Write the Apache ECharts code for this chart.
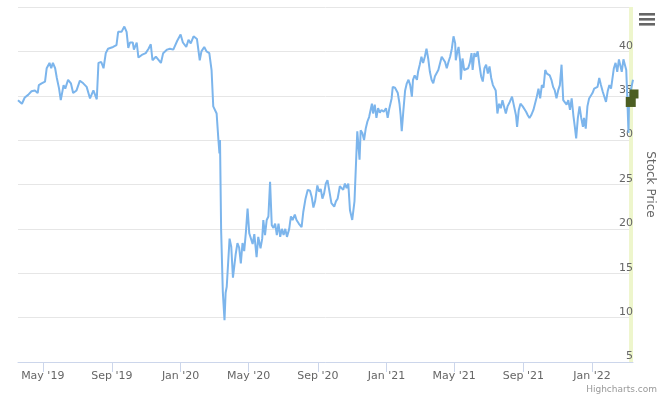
<!DOCTYPE html>
<html>
<head>
<meta charset="utf-8">
<script src="https://cdn.jsdelivr.net/npm/echarts@6/dist/echarts.min.js"></script>
<style>
html,body{margin:0;padding:0;background:#fff;}
#chart{width:660px;height:400px;}
</style>
</head>
<body>
<div id="chart"></div>
<script>
// ---- data ----
const dates = [
"2019-03-18","2019-03-25","2019-03-30","2019-04-05","2019-04-11","2019-04-17","2019-04-22","2019-04-24","2019-04-29","2019-05-05",
"2019-05-08","2019-05-13","2019-05-16","2019-05-19","2019-05-23","2019-05-26","2019-05-30","2019-06-02","2019-06-07","2019-06-10",
"2019-06-15","2019-06-20","2019-06-24","2019-06-30","2019-07-06","2019-07-12","2019-07-18","2019-07-24","2019-07-30","2019-08-05",
"2019-08-08","2019-08-13","2019-08-17","2019-08-21","2019-08-25","2019-09-03","2019-09-09","2019-09-12","2019-09-18","2019-09-23",
"2019-09-27","2019-09-30","2019-10-03","2019-10-08","2019-10-10","2019-10-15","2019-10-18","2019-10-24","2019-10-31","2019-11-05",
"2019-11-09","2019-11-12","2019-11-18","2019-11-27","2019-12-01","2019-12-08","2019-12-13","2019-12-19","2019-12-22","2019-12-26",
"2020-01-01","2020-01-05","2020-01-11","2020-01-15","2020-01-19","2020-01-24","2020-01-30","2020-02-04","2020-02-07","2020-02-12",
"2020-02-16","2020-02-21","2020-02-25","2020-02-28","2020-03-02","2020-03-05","2020-03-08","2020-03-10","2020-03-11","2020-03-13",
"2020-03-16","2020-03-19","2020-03-21","2020-03-23","2020-03-28","2020-03-31","2020-04-03","2020-04-08","2020-04-11","2020-04-14",
"2020-04-17","2020-04-20","2020-04-23","2020-04-26","2020-04-29","2020-05-02","2020-05-05","2020-05-08","2020-05-11","2020-05-15",
"2020-05-18","2020-05-22","2020-05-25","2020-05-27","2020-05-30","2020-06-02","2020-06-05","2020-06-08","2020-06-11","2020-06-14",
"2020-06-17","2020-06-20","2020-06-23","2020-06-26","2020-06-29","2020-07-02","2020-07-05","2020-07-08","2020-07-12","2020-07-15",
"2020-07-18","2020-07-22","2020-07-25","2020-07-29","2020-08-03","2020-08-06","2020-08-10","2020-08-14","2020-08-18","2020-08-21",
"2020-08-24","2020-08-27","2020-08-31","2020-09-03","2020-09-06","2020-09-09","2020-09-12","2020-09-15","2020-09-18","2020-09-21",
"2020-09-25","2020-09-30","2020-10-03","2020-10-06","2020-10-10","2020-10-13","2020-10-16","2020-10-19","2020-10-22","2020-10-25",
"2020-10-28","2020-11-01","2020-11-05","2020-11-07","2020-11-10","2020-11-14","2020-11-16","2020-11-19","2020-11-22","2020-11-25",
"2020-11-28","2020-12-01","2020-12-04","2020-12-06","2020-12-08","2020-12-11","2020-12-14","2020-12-17","2020-12-20","2020-12-23",
"2020-12-27","2020-12-31","2021-01-03","2021-01-06","2021-01-10","2021-01-12","2021-01-16","2021-01-19","2021-01-21","2021-01-24",
"2021-01-26","2021-01-28","2021-01-31","2021-02-03","2021-02-06","2021-02-09","2021-02-12","2021-02-15","2021-02-17","2021-02-20",
"2021-02-24","2021-02-26","2021-03-01","2021-03-04","2021-03-07","2021-03-10","2021-03-13","2021-03-16","2021-03-19","2021-03-22",
"2021-03-25","2021-03-28","2021-03-31","2021-04-03","2021-04-06","2021-04-09","2021-04-12","2021-04-15","2021-04-18","2021-04-21",
"2021-04-24","2021-04-27","2021-04-30","2021-05-03","2021-05-04","2021-05-07","2021-05-09","2021-05-12","2021-05-13","2021-05-16",
"2021-05-19","2021-05-22","2021-05-26","2021-05-29","2021-06-01","2021-06-03","2021-06-06","2021-06-09","2021-06-12","2021-06-15",
"2021-06-18","2021-06-21","2021-06-24","2021-06-27","2021-06-30","2021-07-03","2021-07-06","2021-07-09","2021-07-11","2021-07-14",
"2021-07-17","2021-07-20","2021-07-23","2021-07-26","2021-07-29","2021-08-01","2021-08-04","2021-08-08","2021-08-12","2021-08-15",
"2021-08-19","2021-08-21","2021-08-24","2021-08-27","2021-08-31","2021-09-03","2021-09-06","2021-09-09","2021-09-12","2021-09-15",
"2021-09-19","2021-09-22","2021-09-25","2021-09-28","2021-10-01","2021-10-04","2021-10-07","2021-10-10","2021-10-13","2021-10-15",
"2021-10-18","2021-10-21","2021-10-24","2021-10-27","2021-10-30","2021-11-02","2021-11-05","2021-11-08","2021-11-11","2021-11-14",
"2021-11-17","2021-11-20","2021-11-23","2021-11-26","2021-11-29","2021-12-02","2021-12-04","2021-12-07","2021-12-10","2021-12-13",
"2021-12-16","2021-12-18","2021-12-21","2021-12-24","2021-12-27","2021-12-30","2022-01-02","2022-01-05","2022-01-08","2022-01-11",
"2022-01-14","2022-01-17","2022-01-20","2022-01-23","2022-01-26","2022-01-29","2022-02-01","2022-02-04","2022-02-07","2022-02-09",
"2022-02-12","2022-02-15","2022-02-18","2022-02-21","2022-02-23","2022-02-26","2022-03-01","2022-03-03","2022-03-05","2022-03-07",
"2022-03-08","2022-03-11","2022-03-15"
];
const prices = [
34.5,34.1,34.8,35.1,35.5,35.6,35.3,36.2,36.4,36.6,
38.1,38.7,38.1,38.7,38.1,37.0,35.8,34.5,36.2,35.8,
36.8,36.4,35.3,35.6,36.7,36.4,36.0,34.7,35.6,34.6,
38.7,38.8,38.1,39.8,40.3,40.5,40.7,42.2,42.2,42.8,
42.2,40.4,41.0,41.0,40.2,41.0,39.3,39.6,39.8,40.3,
40.8,39.0,39.4,38.7,39.8,40.2,40.3,40.2,40.3,41.2,
41.9,41.0,40.5,41.3,40.9,41.7,41.4,39.0,40.0,40.5,
40.0,39.8,37.9,33.8,33.6,33.0,30.2,28.5,30.0,19.9,
12.9,9.7,12.8,13.5,18.9,18.0,14.5,17.2,18.4,17.9,
16.1,18.4,17.5,19.6,22.3,19.5,19.6,18.3,19.4,16.8,
19.1,17.8,18.9,21.0,19.3,21.0,21.4,25.3,20.4,20.1,
20.6,19.3,20.6,19.1,20.0,19.3,20.0,19.1,20.0,21.4,
21.0,21.6,21.0,20.6,20.2,21.9,23.4,24.4,24.3,23.6,
22.4,23.1,24.9,24.2,24.5,23.4,24.0,25.1,25.5,24.4,
22.9,22.5,23.1,23.4,24.8,24.9,24.4,25.1,24.6,25.1,
22.1,21.0,23.1,23.3,31.0,27.8,31.1,30.8,30.0,31.3,
32.1,32.6,32.8,34.1,33.0,34.0,32.5,33.6,33.1,33.4,
33.2,33.6,32.5,33.6,34.7,36.0,35.9,36.0,35.3,34.1,
32.8,31.0,33.4,35.6,36.4,36.8,36.2,34.9,36.8,37.3,
36.8,37.7,38.5,39.4,38.7,39.4,40.3,39.2,37.7,36.8,
36.4,37.2,37.1,37.9,38.1,39.4,39.2,38.8,38.1,38.8,
39.4,40.3,41.7,40.9,39.0,40.0,40.5,38.8,36.8,39.2,
37.9,38.1,38.1,38.7,39.8,37.9,39.8,39.4,40.0,38.5,
37.2,36.6,38.1,38.5,37.5,38.3,37.0,36.2,36.0,35.6,
33.0,34.1,33.6,34.5,34.3,33.0,33.8,34.3,34.9,34.0,
32.8,31.5,33.4,34.1,33.8,34.0,33.2,32.8,32.5,32.8,
33.4,33.6,34.9,35.8,34.7,36.2,35.9,37.9,37.5,37.7,
37.3,36.8,36.0,35.6,34.7,35.6,36.2,38.5,34.5,34.7,
34.0,34.5,33.4,34.7,32.8,31.3,30.2,32.5,33.8,32.5,
31.5,32.5,31.3,33.8,34.7,34.7,35.3,35.8,35.6,36.0,
37.0,36.2,35.5,35.3,34.3,35.5,36.2,35.8,35.8,38.1,
38.7,37.7,39.1,39.0,37.7,39.1,39.0,37.9,34.5,30.8,
34.5,35.6,36.8
];
const xRange = ["2019-03-18", "2022-03-15"];
const yTicks = [5, 10, 15, 20, 25, 30, 35, 40, 45];
const xTickDates = ["2019-05-01","2019-09-01","2020-01-01","2020-05-01","2020-09-01","2021-01-01","2021-05-01","2021-09-01","2022-01-01"];
const xTickLabels = ["May '19","Sep '19","Jan '20","May '20","Sep '20","Jan '21","May '21","Sep '21","Jan '22"];
const bandRange = ["2022-03-08", "2022-03-15"];
const markers = [["2022-03-15", 35.2], ["2022-03-11", 34.3]];
const axisTitle = "Stock Price";
const creditText = "Highcharts.com";

// ---- chart ----
const FONT = "DejaVu Sans";
const tp = s => +echarts.time.parse(s);
const tickVals = xTickDates.map(tp);
const yMin = yTicks[0], yMax = yTicks[yTicks.length - 1];
const chart = echarts.init(document.getElementById('chart'), null, {renderer: 'canvas'});
chart.setOption({
  animation: false,
  backgroundColor: '#ffffff',
  grid: {left: 18, right: 27, top: 7, bottom: 38, containLabel: false, outerBoundsMode: 'none'},
  xAxis: {
    type: 'value',
    min: tp(xRange[0]),
    max: tp(xRange[1]),
    axisLine: {show: true, lineStyle: {color: '#ccd6eb', width: 1}},
    axisTick: {show: true, length: 10, lineStyle: {color: '#ccd6eb'}, customValues: tickVals},
    axisLabel: {
      customValues: tickVals,
      showMinLabel: true, showMaxLabel: true,
      color: '#666666', fontSize: 11, fontFamily: FONT, margin: 9,
      formatter: function (v) {
        const i = tickVals.indexOf(+v);
        return i >= 0 ? xTickLabels[i] : '';
      }
    },
    splitLine: {show: false}
  },
  yAxis: [{
    // grid lines only
    type: 'value',
    position: 'right',
    min: yMin, max: yMax, interval: 5,
    z: 0,
    axisLine: {show: false},
    axisTick: {show: false},
    axisLabel: {show: false},
    splitLine: {show: true, lineStyle: {color: '#e6e6e6', width: 1}}
  }, {
    // labels + title, drawn above the plot band
    type: 'value',
    position: 'right',
    min: yMin, max: yMax, interval: 5,
    z: 3,
    axisLine: {show: false},
    axisTick: {show: false},
    splitLine: {show: false},
    axisLabel: {
      inside: true, margin: 0, color: '#666666', fontSize: 11, fontFamily: FONT,
      verticalAlign: 'bottom', showMaxLabel: false,
      formatter: v => (v === yMax ? '' : String(v))
    },
    name: axisTitle,
    nameLocation: 'middle',
    nameRotate: -90,
    nameGap: 6,
    nameTextStyle: {color: '#666666', fontSize: 12, fontFamily: FONT}
  }],
  series: [{
    type: 'line',
    yAxisIndex: 0,
    data: dates.map((d, i) => [tp(d), prices[i]]),
    showSymbol: false,
    symbol: 'none',
    lineStyle: {color: '#7cb5ec', width: 2},
    itemStyle: {color: '#7cb5ec'},
    markArea: {
      silent: true,
      z: 1,
      itemStyle: {color: '#eef6cc'},
      data: [[{xAxis: tp(bandRange[0])}, {xAxis: tp(bandRange[1])}]]
    },
    markPoint: {
      silent: true,
      z: 5,
      symbol: 'rect',
      label: {show: false},
      itemStyle: {color: '#4c5e22'},
      data: [
        {coord: [tp(markers[0][0]), markers[0][1]], symbolSize: [9, 9], symbolOffset: [1, 0]},
        {coord: [tp(markers[1][0]), markers[1][1]], symbolSize: [10, 10]}
      ]
    }
  }],
  graphic: [
    {type: 'rect', left: 639, top: 13, shape: {width: 16, height: 2.6}, style: {fill: '#666666'}},
    {type: 'rect', left: 639, top: 18, shape: {width: 16, height: 2.6}, style: {fill: '#666666'}},
    {type: 'rect', left: 639, top: 23, shape: {width: 16, height: 2.6}, style: {fill: '#666666'}},
    {type: 'text', right: 3, top: 385, style: {text: creditText, fill: '#999999', fontSize: 9, fontFamily: FONT}}
  ]
});
</script>
</body>
</html>
